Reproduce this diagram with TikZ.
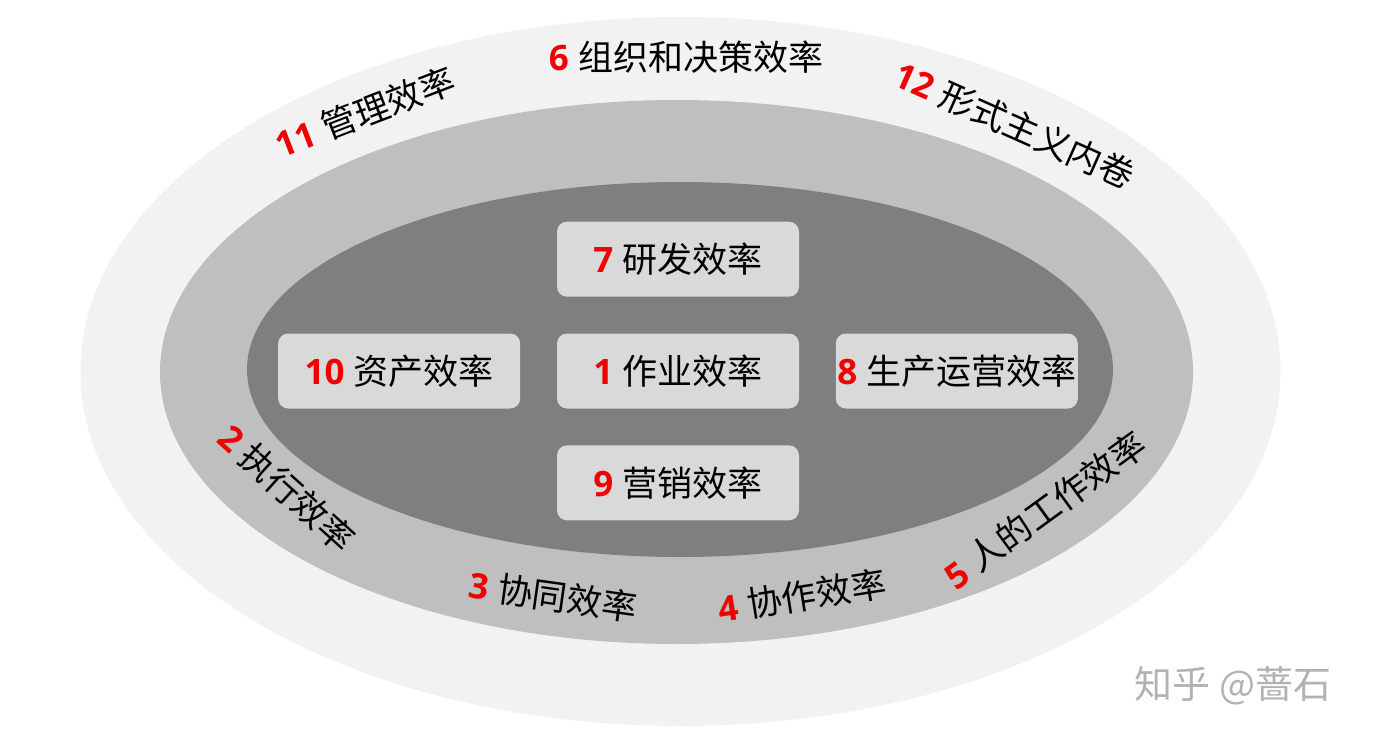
\documentclass[tikz,border=0pt]{standalone}
\usepackage{fontspec}
\setmainfont{Open Sans}
\newfontfamily\cjk{Noto Sans CJK SC}
\usetikzlibrary{positioning}
\definecolor{ringouter}{HTML}{F2F2F2}
\definecolor{ringmid}{HTML}{BFBFBF}
\definecolor{ringinner}{HTML}{7F7F7F}
\definecolor{boxfill}{HTML}{D9D9D9}
\definecolor{numred}{HTML}{F00000}
\newcommand{\effnum}[1]{{\bfseries\color{numred}#1}}
\tikzset{
  effbox/.style={rectangle,rounded corners=5pt,fill=boxfill,minimum width=121pt,minimum height=37.5pt,inner sep=0pt,font=\fontsize{17.5}{20}\selectfont},
  ringlabel/.style={inner sep=0pt,font=\fontsize{17.5}{20}\selectfont},
  every picture/.style={line cap=round,line join=round}
}

\begin{document}
\begin{tikzpicture}[x=0.5pt,y=-0.5pt,node distance=18pt]
  \useasboundingbox (0,0) rectangle (1378,744);
  % rings
  \fill[ringouter] (680.5,371.5) ellipse [x radius=300pt,y radius=177.25pt];
  \fill[ringmid] (676.5,372) ellipse [x radius=258.25pt,y radius=136pt];
  \fill[ringinner] (680,369.5) ellipse [x radius=216.5pt,y radius=93.75pt];
  % inner boxes
  \node[effbox] (ops) at (678,371) {\effnum{1} \cjk 作业效率};
  \node[effbox,above=of ops] (rnd) {\effnum{7} \cjk 研发效率};
  \node[effbox,below=of ops] (mkt) {\effnum{9} \cjk 营销效率};
  \node[effbox,left=of ops] (asset) {\effnum{10} \cjk 资产效率};
  \node[effbox,right=of ops] (prod) {\effnum{8} \cjk 生产运营效率};
  % middle ring
  \node[ringlabel,rotate=-42] (exec) at (287,488) {\effnum{2} \cjk 执行效率};
  \node[ringlabel,rotate=-8] (coop) at (553,596) {\effnum{3} \cjk 协同效率};
  \node[ringlabel,rotate=9] (collab) at (802,596) {\effnum{4} \cjk 协作效率};
  \node[ringlabel,rotate=36] (people) at (1045,510) {\effnum{5} \cjk 人的工作效率};
  % outer ring
  \node[ringlabel] (org) at (686,57) {\effnum{6} \cjk 组织和决策效率};
  \node[ringlabel,rotate=21] (mgmt) at (365,112) {\effnum{11} \cjk 管理效率};
  \node[ringlabel,rotate=-24] (form) at (1015,125) {\effnum{12} \cjk 形式主义内卷};
  % watermark
  \node[inner sep=0pt,text=black!30,font=\fontsize{19}{22}\selectfont] (mark) at (1233,686) {\cjk 知乎 @蔷石};
\end{tikzpicture}
\end{document}
